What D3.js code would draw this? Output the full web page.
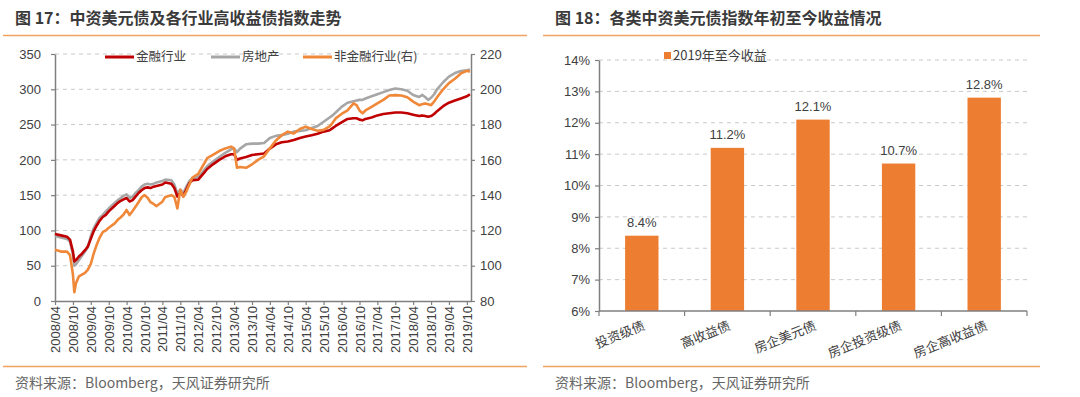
<!DOCTYPE html>
<html>
<head>
<meta charset="utf-8">
<script src="https://cdn.jsdelivr.net/npm/d3@7"></script>
<style>
  body { margin: 0; background: #fff; }
  text { font-family: "Liberation Sans", Arial, "Noto Sans CJK SC", sans-serif; }
  .cjk { font-family: "Noto Sans CJK SC", "Liberation Sans", sans-serif; }
</style>
</head>
<body>
<div id="chart"></div>
<script>
// ---- left chart data ----
const dates = ["2008-04-01","2008-06-01","2008-08-01","2008-09-01","2008-10-01","2008-10-15","2008-11-01","2008-12-01",
  "2009-01-01","2009-02-01","2009-03-01","2009-04-01","2009-05-01","2009-06-01","2009-07-01","2009-08-01","2009-09-01","2009-10-01","2009-12-01",
  "2010-01-01","2010-02-01","2010-03-01","2010-04-01","2010-05-01","2010-06-01","2010-07-01","2010-08-01","2010-09-01","2010-10-01","2010-11-01","2010-12-01",
  "2011-01-01","2011-02-01","2011-04-01","2011-05-01","2011-07-01","2011-08-01","2011-09-01","2011-10-01","2011-11-01","2011-12-01",
  "2012-01-01","2012-02-01","2012-04-01","2012-05-01","2012-06-01","2012-07-01","2012-09-01","2012-11-01",
  "2013-01-01","2013-03-01","2013-04-01","2013-05-01","2013-06-01","2013-08-01","2013-10-01","2013-12-01",
  "2014-02-01","2014-04-01","2014-06-01","2014-08-01","2014-10-01","2014-12-01",
  "2015-02-01","2015-04-01","2015-06-01","2015-08-01","2015-10-01","2015-12-01",
  "2016-01-01","2016-02-01","2016-04-01","2016-06-01","2016-08-01","2016-09-01","2016-10-01","2016-11-01","2016-12-01",
  "2017-02-01","2017-04-01","2017-06-01","2017-08-01","2017-10-01","2017-12-01",
  "2018-02-01","2018-04-01","2018-06-01","2018-07-01","2018-08-01","2018-09-01","2018-10-01","2018-11-01","2018-12-01",
  "2019-02-01","2019-04-01","2019-06-01","2019-08-01","2019-10-01","2019-11-01"];

const finance = [95,93,91,87,70,56,58,63,
  67,72,77,88,99,107,114,119,122,127,135,
  139,142,144,146,141,143,148,153,157,160,161,160,
  162,163,165,168,166,160,148,153,149,158,
  167,171,172,177,182,187,194,200,
  205,208,208,200,202,204,207,208,
  209,216,222,225,226,228,
  231,233,235,237,240,242,
  245,248,253,258,259,259,257,256,258,
  260,263,265,266,267,267,
  266,264,262,263,262,261,262,265,269,
  276,281,284,287,290,293];

const property = [92,90,88,84,66,50,52,58,
  64,70,76,92,103,111,118,122,127,131,139,
  143,146,149,151,146,148,153,157,162,165,166,165,
  166,168,170,172,171,165,152,158,153,162,
  170,174,176,180,186,191,198,204,
  210,215,216,211,216,222,223,223,
  224,231,234,235,237,240,
  241,242,245,248,254,260,
  263,267,275,281,283,284,285,285,287,
  290,293,296,299,301,300,
  298,292,289,292,289,285,288,293,300,
  310,318,323,326,327,328];

// right axis
const nonFinance = [109,108,108,106,95,85,90,94,
  95,96,97.6,101,107,112,116,119,120,121.5,124,
  126,127.5,129,131.6,128.7,131,133.4,136,138.8,140,138.5,136,
  135,133.8,136.3,139,140,139,132.5,143,139,142,
  146,150,152,155,158,161,163,165,
  166.5,167.5,166.5,155.5,156,155.5,157.5,160,
  162,166.5,171,174,176,175,
  177.5,178.8,177.5,176.5,177,179,
  181,183.5,186,188,192,191,188,186.4,188,
  190,192,194,196.5,196.7,196.5,
  195.5,193,191,191.5,192,191.5,191,193,195.5,
  200,203.5,206,209,210.5,210];

const leftTicks = [0,50,100,150,200,250,300,350];
const rightTicks = [80,100,120,140,160,180,200,220];

// ---- right chart data ----
const barCats = ["投资级债","高收益债","房企美元债","房企投资级债","房企高收益债"];
const barVals = [8.4, 11.2, 12.1, 10.7, 12.8];
const pctTicks = [6,7,8,9,10,11,12,13,14];

const axisColor = "#7f7f7f";
const gridColor = "#c9c9c9";
const textColor = "#404040";
const ruleColor = "#f0a35e";

const svg = d3.select("#chart").append("svg")
  .attr("width", 1080).attr("height", 397)
  .style("background", "#fff");

// titles, rules, sources
function frame(x0, x1, title) {
  svg.append("text").attr("class", "cjk")
    .attr("x", x0 + 12).attr("y", 24)
    .attr("font-size", 16).attr("font-weight", "bold")
    .attr("fill", "#3a3a3a").text(title);
  svg.append("line").attr("x1", x0).attr("x2", x1).attr("y1", 35.5).attr("y2", 35.5)
    .attr("stroke", ruleColor).attr("stroke-width", 1.5);
  svg.append("line").attr("x1", x0).attr("x2", x1).attr("y1", 366.5).attr("y2", 366.5)
    .attr("stroke", ruleColor).attr("stroke-width", 1.5);
  svg.append("text").attr("class", "cjk")
    .attr("x", x0 + 12).attr("y", 388)
    .attr("font-size", 14).attr("fill", "#666")
    .text("资料来源：Bloomberg，天风证券研究所");
}
frame(3, 527, "图 17：中资美元债及各行业高收益债指数走势");
frame(543, 1040, "图 18：各类中资美元债指数年初至今收益情况");

// ================= left chart =================
const parse = d3.timeParse("%Y-%m-%d");
const dd = dates.map(parse);
const x = d3.scaleTime()
  .domain([parse("2008-04-01"), parse("2019-11-12")])
  .range([55, 471]);
const yL = d3.scaleLinear().domain([0, 350]).range([301, 54]);
const yR = d3.scaleLinear().domain([80, 220]).range([301, 54]);

const gl = svg.append("g");

// grid
gl.selectAll(".grid").data(leftTicks.slice(1)).join("line")
  .attr("x1", 55).attr("x2", 471)
  .attr("y1", d => yL(d)).attr("y2", d => yL(d))
  .attr("stroke", gridColor).attr("stroke-dasharray", "4,4");

function styleAxis(g) {
  g.select(".domain").attr("stroke", axisColor).attr("stroke-width", 1.5);
  g.selectAll(".tick line").attr("stroke", axisColor).attr("stroke-width", 1.2);
  g.selectAll("text").attr("fill", textColor).attr("font-size", 13)
    .attr("font-family", "Liberation Sans, Arial, sans-serif");
}

const tickDates = d3.timeMonth.range(parse("2008-04-01"), parse("2019-11-01"), 6);
gl.append("g").attr("transform", "translate(0,301)")
  .call(d3.axisBottom(x).tickValues(tickDates).tickFormat(d3.timeFormat("%Y/%m")).tickSize(4).tickSizeOuter(0))
  .call(styleAxis)
  .call(g => g.selectAll("text")
    .attr("transform", "rotate(-90)")
    .attr("x", -5).attr("y", 0).attr("dy", "0.35em")
    .style("text-anchor", "end"));

gl.append("g").attr("transform", "translate(55,0)")
  .call(d3.axisLeft(yL).tickValues(leftTicks).tickSize(4).tickPadding(10).tickSizeOuter(0))
  .call(styleAxis);

gl.append("g").attr("transform", "translate(471,0)")
  .call(d3.axisRight(yR).tickValues(rightTicks).tickSize(4).tickPadding(5).tickSizeOuter(0))
  .call(styleAxis);

const seriesL = [
  { name: "房地产", vals: property, scale: yL, color: "#a6a6a6" },
  { name: "金融行业", vals: finance, scale: yL, color: "#c00000" },
  { name: "非金融行业(右)", vals: nonFinance, scale: yR, color: "#f0883a" }
];
seriesL.forEach(s => {
  const line = d3.line()
    .x((d, i) => x(dd[i]))
    .y(d => s.scale(d));
  gl.append("path").datum(s.vals)
    .attr("d", line)
    .attr("fill", "none")
    .attr("stroke", s.color)
    .attr("stroke-width", 2.6)
    .attr("stroke-linejoin", "round");
});

// legend
const legendItems = [
  { name: "金融行业", color: "#c00000", x: 105 },
  { name: "房地产", color: "#a6a6a6", x: 211 },
  { name: "非金融行业(右)", color: "#f0883a", x: 303 }
];
const lg = gl.selectAll(".lg").data(legendItems).join("g")
  .attr("transform", d => `translate(${d.x},57)`);
lg.append("rect").attr("x", -3).attr("y", -9).attr("width", 30 + 6 + d3.max([0]) + 85).attr("height", 18)
  .attr("fill", "#fff").attr("opacity", 0);
lg.append("line").attr("x1", 0).attr("x2", 29)
  .attr("stroke", d => d.color).attr("stroke-width", 3);
lg.append("text").attr("class", "cjk")
  .attr("x", 31).attr("dy", "0.35em")
  .attr("font-size", 12.5).attr("fill", textColor)
  .text(d => d.name);

// ================= right chart =================
const gr = svg.append("g");
const xb = d3.scaleBand().domain(barCats).range([599, 1027])
  .paddingInner(0.61).paddingOuter(0.305);
const yb = d3.scaleLinear().domain([6, 14]).range([311, 60]);

gr.selectAll(".grid").data(pctTicks.slice(1)).join("line")
  .attr("x1", 599).attr("x2", 1027)
  .attr("y1", d => yb(d)).attr("y2", d => yb(d))
  .attr("stroke", gridColor).attr("stroke-dasharray", "4,4");

gr.selectAll(".bar").data(barVals).join("rect")
  .attr("x", (d, i) => xb(barCats[i]))
  .attr("width", xb.bandwidth())
  .attr("y", d => yb(d))
  .attr("height", d => yb(6) - yb(d))
  .attr("fill", "#ed7d31");

gr.selectAll(".lbl").data(barVals).join("text")
  .attr("x", (d, i) => xb(barCats[i]) + xb.bandwidth() / 2)
  .attr("y", d => yb(d) - 9)
  .attr("text-anchor", "middle")
  .attr("font-size", 13).attr("fill", textColor)
  .text(d => d.toFixed(1) + "%");

gr.append("g").attr("transform", "translate(599,0)")
  .call(d3.axisLeft(yb).tickValues(pctTicks).tickFormat(d => d + "%").tickSize(4).tickPadding(5).tickSizeOuter(0))
  .call(styleAxis);

// bottom axis with ticks at band edges
const xAxisG = gr.append("g").attr("transform", "translate(0,311)");
xAxisG.append("line").attr("x1", 599).attr("x2", 1027)
  .attr("stroke", axisColor).attr("stroke-width", 1.5);
const edges = barCats.map(c => xb(c) - xb.step() * xb.paddingInner() / 2).concat([1027]);
xAxisG.selectAll(".edge").data(edges).join("line")
  .attr("x1", d => d).attr("x2", d => d).attr("y1", 0).attr("y2", 5)
  .attr("stroke", axisColor).attr("stroke-width", 1.2);
xAxisG.selectAll(".cat").data(barCats).join("text")
  .attr("class", "cjk")
  .attr("transform", d => `translate(${xb(d) + xb.bandwidth() / 2 + 4},18) rotate(-22)`)
  .attr("text-anchor", "end")
  .attr("font-size", 13).attr("fill", textColor)
  .text(d => d);

// legend
gr.append("rect").attr("x", 664).attr("y", 52).attr("width", 7).attr("height", 7).attr("fill", "#ed7d31");
gr.append("text").attr("class", "cjk").attr("x", 673).attr("y", 55.5).attr("dy", "0.35em")
  .attr("font-size", 13).attr("fill", textColor).text("2019年至今收益");
</script>
</body>
</html>
